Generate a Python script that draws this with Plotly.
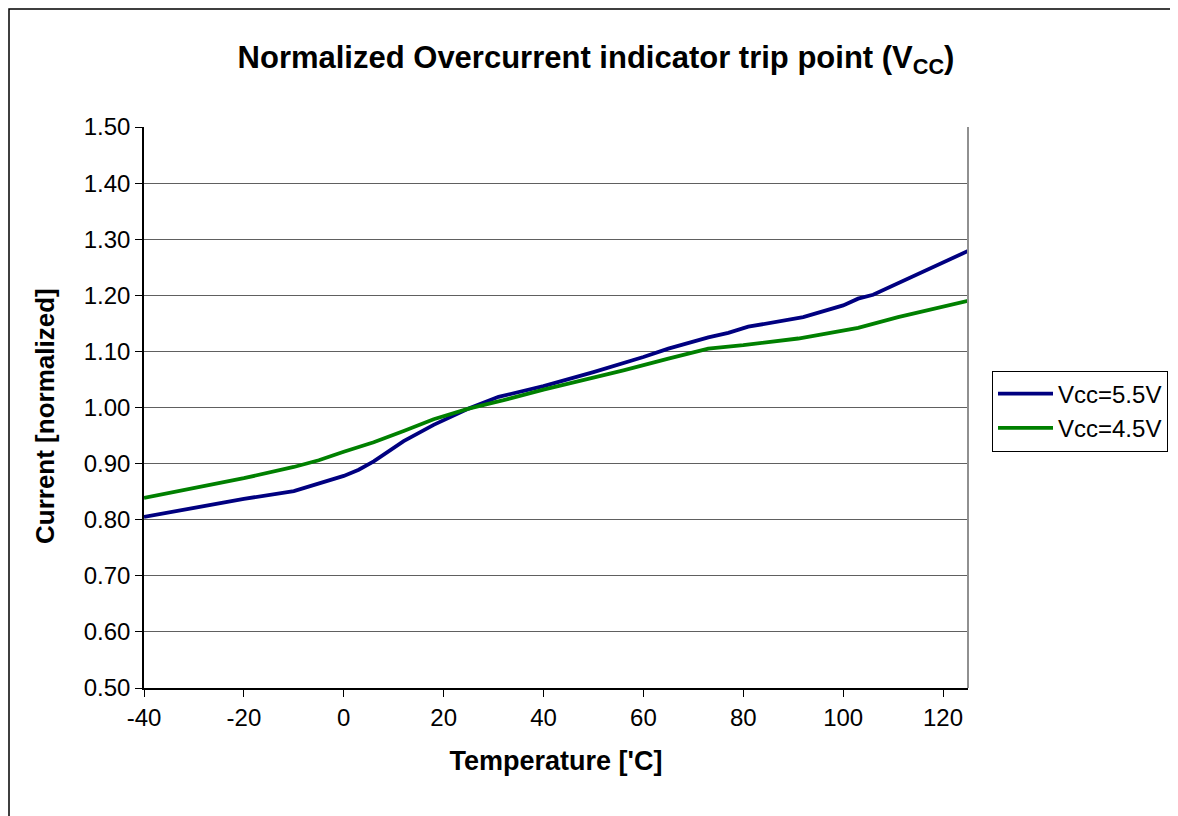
import plotly.graph_objects as go

# Vcc = 5.5 V
temp_55 = [-40, -20, -10, -5, 0, 3, 6, 12, 18, 25, 31, 40, 50, 60, 65, 73, 77, 81, 89, 92, 100, 103, 106, 125]
curr_55 = [0.805, 0.837, 0.851, 0.864, 0.878, 0.889, 0.904, 0.940, 0.969, 0.998, 1.019, 1.038, 1.063,
           1.090, 1.105, 1.125, 1.133, 1.144, 1.157, 1.161, 1.182, 1.194, 1.201, 1.279]

# Vcc = 4.5 V
temp_45 = [-40, -20, -10, -5, 0, 6, 12, 18, 25, 32, 40, 50, 56, 65, 73, 80, 91, 103, 111, 125]
curr_45 = [0.839, 0.874, 0.894, 0.906, 0.921, 0.938, 0.958, 0.979, 0.998, 1.013, 1.032, 1.053, 1.066,
           1.087, 1.105, 1.111, 1.123, 1.142, 1.161, 1.190]

x_ticks = [-40, -20, 0, 20, 40, 60, 80, 100, 120]
x_labels = ["-40", "-20", "0", "20", "40", "60", "80", "100", "120"]
y_ticks = [0.5, 0.6, 0.7, 0.8, 0.9, 1.0, 1.1, 1.2, 1.3, 1.4, 1.5]

FONT = "Liberation Sans, Arial, sans-serif"
OFF = 8  # page body margin
W, H = 1178 - OFF, 816 - OFF
L, R, T, B = 144 - OFF, 968 - OFF, 127 - OFF, 688 - OFF

fig = go.Figure()
fig.add_trace(go.Scatter(x=temp_55, y=curr_55, mode="lines", name="Vcc=5.5V",
                         line=dict(color="#000080", width=3.8)))
fig.add_trace(go.Scatter(x=temp_45, y=curr_45, mode="lines", name="Vcc=4.5V",
                         line=dict(color="#008000", width=3.8)))

pw, ph = R - L, B - T
def px(x):  # reference page x -> paper
    return (x - OFF - L) / pw
def py(y):  # reference page y -> paper
    return (B - (y - OFF)) / ph

fig.update_layout(
    width=W, height=H,
    margin=dict(l=L, r=W - R, t=T, b=H - B, autoexpand=False),
    paper_bgcolor="white", plot_bgcolor="white",
    font=dict(family=FONT, color="black", size=24),
    title=dict(text="<b>Normalized Overcurrent indicator trip point (V<sub>CC</sub>)</b>",
               x=(596 - OFF) / W, xanchor="center", xref="container",
               y=1 - (57 - OFF) / H, yanchor="middle", yref="container",
               font=dict(family=FONT, size=31, color="black")),
    xaxis=dict(range=[-40, 125], tickvals=x_ticks, ticktext=x_labels,
               ticks="outside", ticklen=7, tickcolor="black",
               showline=True, linecolor="black", linewidth=1.5, showgrid=False, zeroline=False,
               tickfont=dict(size=24),
               title=dict(text="<b>Temperature ['C]</b>", font=dict(size=27), standoff=22)),
    yaxis=dict(range=[0.5, 1.5], tickvals=y_ticks, tickformat=".2f", ticks="outside", ticklen=7,
               tickcolor="black", showline=True, linecolor="black", linewidth=1.5,
               showgrid=True, gridcolor="#606060", gridwidth=1, zeroline=False,
               tickfont=dict(size=24)),
    legend=dict(x=px(992), y=py(411), xanchor="left", yanchor="middle",
                bordercolor="black", borderwidth=1, bgcolor="white",
                font=dict(size=24), tracegroupgap=0, itemwidth=55),
    showlegend=True,
)

# y-axis title placed as an annotation to match its exact position
fig.add_annotation(text="<b>Current [normalized]</b>", textangle=-90,
                   xref="paper", yref="paper", x=px(45), y=py(416),
                   xanchor="center", yanchor="middle", showarrow=False,
                   font=dict(family=FONT, size=26, color="black"))

# plot-area right border (gray) and outer chart frame
fig.add_shape(type="line", xref="paper", yref="paper", x0=1, x1=1, y0=0, y1=1,
              line=dict(color="#909090", width=2))
fig.add_shape(type="rect", xref="paper", yref="paper",
              x0=(1 - L) / pw, x1=(W + 20 - L) / pw,
              y0=(B - (H + 20)) / ph, y1=(B - 1) / ph,
              line=dict(color="black", width=1.5), layer="below")

fig.write_html("out.html")
